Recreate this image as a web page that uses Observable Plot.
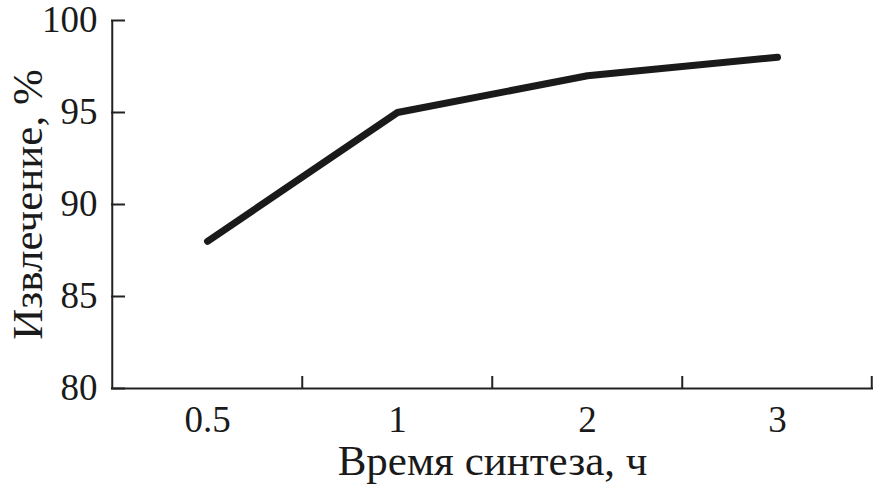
<!DOCTYPE html>
<html>
<head>
<meta charset="utf-8">
<script src="https://cdn.jsdelivr.net/npm/d3@7"></script>
<script src="https://cdn.jsdelivr.net/npm/@observablehq/plot@0.6"></script>
<style>
  html, body { margin: 0; padding: 0; background: #fff; }
  #chart svg, #chart svg text { font-family: "Liberation Serif", "DejaVu Serif", serif !important; }
  #chart g[aria-label="x-axis label"], #chart g[aria-label="y-axis label"] { font-size: 43px; }
</style>
</head>
<body>
<div id="chart"></div>
<script>
const categories = ["0.5", "1", "2", "3"];
const extraction = [88, 95, 97, 98];
const yTicks = [80, 85, 90, 95, 100];
const xLabel = "Время синтеза, ч";
const yLabel = "Извлечение, %";

const data = categories.map((c, i) => ({time: c, value: extraction[i]}));

const W = 874, H = 490;
const mL = 111, mR = 1, mT = 20, mB = 102;
const step = (W - mL - mR) / categories.length;
const innerW = W - mL - mR, innerH = H - mT - mB;
const axisColor = "#222";

const chart = Plot.plot({
  width: W,
  height: H,
  marginLeft: mL,
  marginRight: mR,
  marginTop: mT,
  marginBottom: mB,
  style: {fontFamily: "'Liberation Serif', 'DejaVu Serif', serif", fontSize: "37px", color: "#1a1a1a", background: "#fff"},
  x: {type: "point", domain: categories, padding: 0.5, tickSize: 0, tickPadding: 17,
      label: xLabel, labelAnchor: "center", labelOffset: 86, labelArrow: "none"},
  y: {domain: [80, 100], ticks: yTicks, tickSize: 0, tickPadding: 14,
      label: yLabel, labelAnchor: "center", labelOffset: 100, labelArrow: "none"},
  marks: [
    // axis lines
    Plot.ruleY([80], {stroke: axisColor, strokeWidth: 2}),
    Plot.ruleX([categories[0]], {dx: -step / 2, stroke: axisColor, strokeWidth: 2}),
    // y ticks pointing inward
    Plot.ruleY(yTicks, {insetRight: innerW - 14, stroke: axisColor, strokeWidth: 2}),
    // x ticks at category boundaries, pointing inward
    Plot.ruleX(categories.slice(1), {dx: -step / 2, insetTop: innerH - 12, stroke: axisColor, strokeWidth: 2}),
    Plot.ruleX([categories[categories.length - 1]], {dx: step / 2 - 1, insetTop: innerH - 12, stroke: axisColor, strokeWidth: 2}),
    // data line
    Plot.line(data, {x: "time", y: "value", stroke: "#1a1a1a", strokeWidth: 7, strokeLinecap: "round", strokeLinejoin: "round"})
  ]
});
document.getElementById("chart").appendChild(chart);
</script>
</body>
</html>
